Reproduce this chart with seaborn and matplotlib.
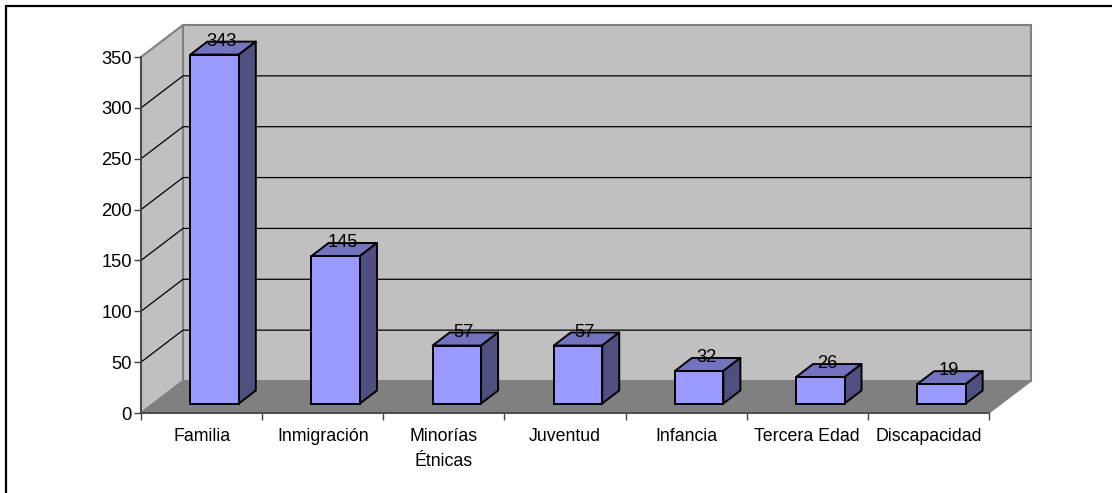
import numpy as np
import pandas as pd
import seaborn as sns
from matplotlib import pyplot as plt
from matplotlib.patches import Polygon
from matplotlib.lines import Line2D
from matplotlib.transforms import Affine2D, IdentityTransform

categories = ['Familia', 'Inmigración', 'Minorías\nÉtnicas', 'Juventud', 'Infancia', 'Tercera Edad', 'Discapacidad']
values = [343, 145, 57, 57, 32, 26, 19]
y_ticks = [0, 50, 100, 150, 200, 250, 300, 350]

W, H = 1112, 493
WALL_DX, WALL_DY = 42, 32
BAR_DX, BAR_DY = 13, 9.5
DEPTH_DX, DEPTH_DY = 17, 13

sns.set_style('white')
plt.rcParams['font.family'] = ['Liberation Sans', 'DejaVu Sans']

fig = plt.figure(figsize=(W / 100, H / 100), dpi=100)
ax = fig.add_axes([141 / W, 1 - 413 / H, 848 / W, 356 / H])
ax.patch.set_alpha(0)

df = pd.DataFrame({'category': categories, 'value': values})
sns.barplot(df, x='category', y='value', color='#9999ff', saturation=1, width=0.4,
            edgecolor='black', linewidth=1.4, ax=ax, zorder=5)
ax.set_xlim(-0.5, 6.5)
ax.set_ylim(0, 350)
ax.set_xlabel('')
ax.set_ylabel('')
ax.set_yticks(y_ticks)
ax.set_xticks(np.arange(-0.5, 7))
ax.set_xticklabels([])
ax.set_xticks(np.arange(len(categories)), categories, minor=True)
ax.tick_params(axis='x', which='major', direction='out', length=5, width=1, color='#404040', bottom=True)
ax.tick_params(axis='x', which='minor', length=0, labelsize=12.8, pad=10.7, labelcolor='black')
ax.tick_params(axis='y', direction='out', length=5, width=1, color='#404040', left=True, labelsize=13.2, pad=1.5, labelcolor='black')
for lab in ax.get_xticklabels(minor=True):
    lab.set_linespacing(1.64)
for name, spine in ax.spines.items():
    spine.set_visible(name in ('left', 'bottom'))
    spine.set_color('#404040')
    spine.set_linewidth(1.2)


def to_px(x, y):
    return ax.transData.transform((x, y))


# walls and floor, in display pixels off the axes corners
x0, y0 = to_px(-0.5, 0)
x1, y1 = to_px(6.5, 350)
wall_style = dict(transform=IdentityTransform(), clip_on=False)
back = [(x0 + WALL_DX, y0 + WALL_DY), (x1 + WALL_DX, y0 + WALL_DY),
        (x1 + WALL_DX, y1 + WALL_DY), (x0 + WALL_DX, y1 + WALL_DY)]
side = [(x0, y0), (x0 + WALL_DX, y0 + WALL_DY), (x0 + WALL_DX, y1 + WALL_DY), (x0, y1)]
floor = [(x0, y0), (x1, y0), (x1 + WALL_DX, y0 + WALL_DY), (x0 + WALL_DX, y0 + WALL_DY)]
ax.add_patch(Polygon(back, facecolor='#c0c0c0', edgecolor='#808080', linewidth=1.5, zorder=0.5, **wall_style))
ax.add_patch(Polygon(side, facecolor='#c0c0c0', edgecolor='#808080', linewidth=1.5, zorder=0.6, **wall_style))
ax.add_patch(Polygon(floor, facecolor='#808080', edgecolor='#808080', linewidth=1, zorder=0.7, **wall_style))

for tick in y_ticks[1:-1]:
    _, yp = to_px(-0.5, tick)
    ax.add_line(Line2D([x0, x0 + WALL_DX, x1 + WALL_DX], [yp, yp + WALL_DY, yp + WALL_DY],
                       color='black', linewidth=0.9, zorder=0.8, **wall_style))

# bars: shift the fronts into the depth, then add top and side faces
shift = Affine2D().translate(BAR_DX, BAR_DY)
for patch, value in zip(ax.patches[:len(values)], values):
    bx, bw = patch.get_x(), patch.get_width()
    left, bottom = to_px(bx, 0) + (BAR_DX, BAR_DY)
    right, top = to_px(bx + bw, value) + (BAR_DX, BAR_DY)
    patch.set_transform(ax.transData + shift)
    patch.set_clip_on(False)
    face_style = dict(edgecolor='black', linewidth=1.4, joinstyle='round', zorder=4, **wall_style)
    ax.add_patch(Polygon([(left, top), (right, top), (right + DEPTH_DX, top + DEPTH_DY), (left + DEPTH_DX, top + DEPTH_DY)],
                         facecolor='#7373bf', **face_style))
    ax.add_patch(Polygon([(right, bottom), (right + DEPTH_DX, bottom + DEPTH_DY), (right + DEPTH_DX, top + DEPTH_DY), (right, top)],
                         facecolor='#4f4f80', **face_style))
    ax.text((left + right) / 2 + 7, top + 13.5, str(value), transform=IdentityTransform(),
            ha='center', va='center', fontsize=13.2, color='black', zorder=6, clip_on=False)

# chart frame: only the top and left edges fall inside the picture
fig.add_artist(Line2D([6 / W, 6 / W, 1], [0, 1 - 5.5 / H, 1 - 5.5 / H], transform=fig.transFigure,
                      color='black', linewidth=1.6, solid_joinstyle='miter'))

fig.savefig('out.png', dpi=100)
